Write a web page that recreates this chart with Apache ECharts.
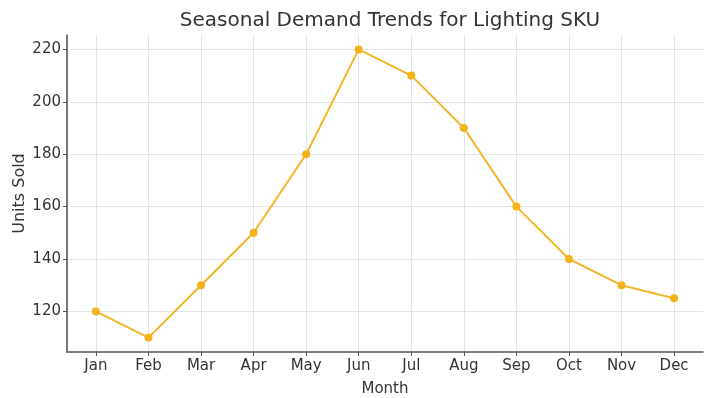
<!DOCTYPE html>
<html>
<head>
<meta charset="utf-8">
<script src="https://cdn.jsdelivr.net/npm/echarts@6/dist/echarts.min.js"></script>
<style>
  html, body { margin: 0; padding: 0; background: #fff; }
  #chart { width: 710px; height: 398px; }
</style>
</head>
<body>
<div id="chart"></div>
<script>
// Monthly units sold for the lighting SKU
const months = ['Jan', 'Feb', 'Mar', 'Apr', 'May', 'Jun', 'Jul', 'Aug', 'Sep', 'Oct', 'Nov', 'Dec'];
const unitsSold = [120, 110, 130, 150, 180, 220, 210, 190, 160, 140, 130, 125];
const yTicks = [120, 140, 160, 180, 200, 220];

const monthIdx = months.map((_, i) => i);
const points = unitsSold.map((v, i) => [i, v]);

// 5% padding around the data range on both axes
const yMin = Math.min(...unitsSold), yMax = Math.max(...unitsSold);
const yPad = (yMax - yMin) * 0.05;
const xPad = (months.length - 1) * 0.05;

const font = 'DejaVu Sans';
const textColor = '#333333';
const gridLine = { show: true, lineStyle: { color: '#e4e4e4', type: 'solid', width: 1 } };

const chart = echarts.init(document.getElementById('chart'), null, { renderer: 'canvas' });
chart.setOption({
  animation: false,
  backgroundColor: '#ffffff',
  title: {
    text: 'Seasonal Demand Trends for Lighting SKU',
    left: 385, top: 6, textAlign: 'center',
    textStyle: { fontFamily: font, fontSize: 20, fontWeight: 'normal', color: textColor }
  },
  grid: { left: 67, right: 7, top: 35, bottom: 46, containLabel: false, outerBoundsMode: 'none' },
  xAxis: {
    type: 'value',
    min: -xPad, max: months.length - 1 + xPad,
    name: 'Month', nameLocation: 'middle', nameGap: 30, nameMoveOverlap: false,
    nameTextStyle: { fontFamily: font, fontSize: 15, color: textColor },
    axisLine: { show: true, onZero: false, lineStyle: { color: '#555', width: 1.6 } },
    axisTick: { show: true, length: 4, customValues: monthIdx, lineStyle: { color: '#555' } },
    axisLabel: {
      customValues: monthIdx, margin: 7,
      formatter: v => months[Math.round(v)],
      fontFamily: font, fontSize: 15, color: textColor
    },
    splitLine: gridLine
  },
  yAxis: {
    type: 'value',
    min: yMin - yPad, max: yMax + yPad,
    name: 'Units Sold', nameLocation: 'middle', nameGap: 39, nameRotate: 90, nameMoveOverlap: false,
    nameTextStyle: { fontFamily: font, fontSize: 16, color: textColor },
    axisLine: { show: true, onZero: false, lineStyle: { color: '#555', width: 1.6 } },
    axisTick: { show: true, length: 4, customValues: yTicks, lineStyle: { color: '#555' } },
    axisLabel: { customValues: yTicks, margin: 6, fontFamily: font, fontSize: 15, color: textColor },
    splitLine: gridLine
  },
  series: [{
    type: 'line',
    data: points,
    symbol: 'circle', symbolSize: 8,
    lineStyle: { color: '#f2b62c', width: 2 },
    itemStyle: { color: '#f3b318' }
  }]
});
</script>
</body>
</html>
